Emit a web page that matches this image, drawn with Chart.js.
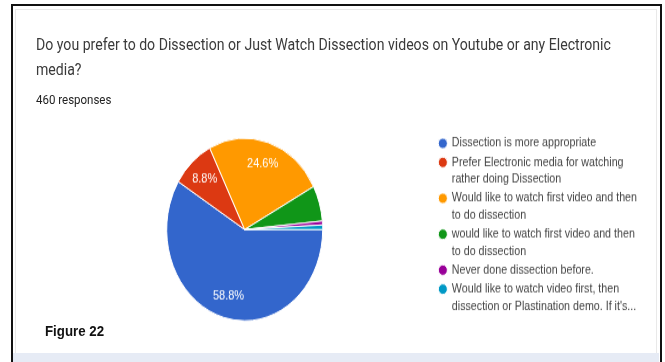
<!DOCTYPE html>
<html>
<head>
<meta charset="utf-8">
<title>Dissection survey</title>
<script src="https://cdn.jsdelivr.net/npm/chart.js@4.4.0/dist/chart.umd.min.js"></script>
<style>
  html, body { margin: 0; padding: 0; background: #fff; }
  body { width: 665px; height: 362px; position: relative; overflow: hidden; font-family: Roboto, "Liberation Sans", Arial, sans-serif; }
  .frame { position: absolute; left: 11px; top: 4px; width: 651px; height: 380px; border: 2px solid #111; box-sizing: border-box; }
  .card { position: absolute; left: 15px; top: 9px; width: 642px; height: 345px; border: 1px solid #e9e9e9; box-sizing: border-box; }
  .strip { position: absolute; left: 13px; top: 353px; width: 646px; height: 9px; background: #e6ebf5; }
  .stretch { position: absolute; left: 0; top: 0; width: 665px; height: 310px; transform: scaleY(1.17); transform-origin: 0 0; }
  .title { position: absolute; left: 36px; top: 28px; font-size: 14.1px; line-height: 21.4px; color: #3a3a3a; white-space: nowrap; }
  .count { position: absolute; left: 36px; top: 78px; font-size: 11.5px; line-height: 14px; color: #222; }
  .caption { position: absolute; left: 45px; top: 275px; font-family: "Liberation Sans", Arial, sans-serif; font-weight: bold; font-size: 13.3px; line-height: 16px; color: #111; }
  #pieChart { position: absolute; left: 20px; top: 100px; }
</style>
</head>
<body>
<div class="frame"></div>
<div class="card"></div>
<div class="strip"></div>
<div class="stretch">
  <div class="title">Do you prefer to do Dissection or Just Watch Dissection videos on Youtube or any Electronic<br>media?</div>
  <div class="count">460 responses</div>
  <canvas id="pieChart" width="640" height="190"></canvas>
  <div class="caption">Figure 22</div>
</div>
<script>
// answers, each one split into the lines shown in the legend
const answers = [
  ['Dissection is more appropriate'],
  ['Prefer Electronic media for watching', 'rather doing Dissection'],
  ['Would like to watch first video and then', 'to do dissection'],
  ['would like to watch first video and then', 'to do dissection'],
  ['Never done dissection before.'],
  ['Would like to watch video first, then', 'dissection or Plastination demo. If it\'s...']
];
const shares = [58.8, 8.8, 24.6, 6.3, 0.7, 0.8];
const sliceColors = ['#3366cc', '#dc3912', '#ff9900', '#109618', '#990099', '#0099c6'];

// percentage text inside the bigger slices
const sliceLabels = {
  id: 'sliceLabels',
  afterDatasetsDraw(chart) {
    const ctx = chart.ctx;
    const meta = chart.getDatasetMeta(0);
    ctx.save();
    ctx.font = '11px "Liberation Sans", Arial, sans-serif';
    ctx.fillStyle = '#fff';
    ctx.textAlign = 'center';
    ctx.textBaseline = 'middle';
    meta.data.forEach((arc, i) => {
      if (shares[i] < 8) return;
      const p = arc.getProps(['x', 'y', 'startAngle', 'endAngle', 'outerRadius'], true);
      const mid = (p.startAngle + p.endAngle) / 2;
      const r = p.outerRadius * 0.76;
      ctx.fillText(shares[i].toFixed(1) + '%', p.x + Math.cos(mid) * r, p.y + Math.sin(mid) * r);
    });
    ctx.restore();
  }
};

new Chart(document.getElementById('pieChart'), {
  type: 'pie',
  data: {
    labels: answers,
    datasets: [{
      data: shares,
      backgroundColor: sliceColors,
      borderColor: '#fff',
      borderWidth: 1,
      radius: 78
    }]
  },
  options: {
    responsive: false,
    animation: false,
    rotation: 90,
    layout: { padding: { top: 15.4, bottom: 13, left: 32, right: 13 } },
    plugins: {
      legend: {
        position: 'right',
        align: 'start',
        labels: {
          usePointStyle: true,
          pointStyle: 'circle',
          boxWidth: 7.3,
          boxHeight: 6.4,
          padding: 1.8,
          color: '#444',
          font: { family: '"Liberation Sans", Arial, sans-serif', size: 10.7, lineHeight: 1.35 }
        }
      },
      tooltip: { enabled: false }
    }
  },
  plugins: [sliceLabels]
});
</script>
</body>
</html>
